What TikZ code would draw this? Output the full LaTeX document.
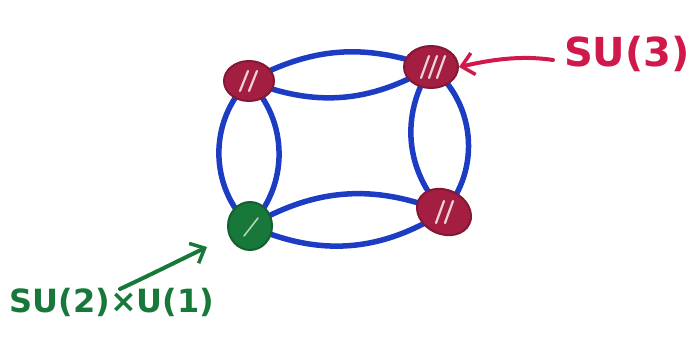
\documentclass[tikz,border=0pt]{standalone}
\usepackage{fontspec}
\setmainfont{DejaVu Sans}
\usetikzlibrary{shapes.geometric,arrows.meta,backgrounds}
\definecolor{inkblue}{HTML}{1D3CC4}
\definecolor{inkred}{HTML}{A41E42}
\definecolor{labelred}{HTML}{D0184A}
\definecolor{inkgreen}{HTML}{18783A}
\tikzset{
  su3/.style={ellipse, fill=inkred, draw=inkred!80!black, line width=2pt, inner sep=0pt},
  su2/.style={ellipse, fill=inkgreen, draw=inkgreen!80!black, line width=2pt, inner sep=0pt},
  link/.style={draw=inkblue, line width=5.5pt, line cap=round},
  hatch/.style={draw=white!80!inkred, line width=2.2pt, line cap=round},
  redarrow/.style={draw=labelred, line width=4pt, line cap=round, -{Straight Barb[length=12pt,width=22pt,line width=3.5pt]}},
  greenarrow/.style={draw=inkgreen, line width=4pt, line cap=round, -{Straight Barb[length=12pt,width=22pt,line width=3.5pt]}},
  lbl/.style={font=\bfseries, inner sep=0pt}
}
\begin{document}
\begin{tikzpicture}[x=1pt,y=-1pt]
\useasboundingbox (0,0) rectangle (700,340);
% vertices
\node[su3, minimum width=50pt, minimum height=40pt] (tl) at (249,81) {};
\node[su3, minimum width=54pt, minimum height=42pt] (tr) at (431,67) {};
\node[su3, minimum width=56pt, minimum height=44pt, rotate=-25] (br) at (444,212) {};
\node[su2, minimum width=44pt, minimum height=48pt] (bl) at (250,226) {};
% hatching
\draw[hatch] ([shift={(-9,10)}]tl.center) -- ++(8,-20);
\draw[hatch] ([shift={(0,10)}]tl.center) -- ++(8,-20);
\draw[hatch] ([shift={(-10,11)}]tr.center) -- ++(8,-22);
\draw[hatch] ([shift={(-2,11)}]tr.center) -- ++(8,-22);
\draw[hatch] ([shift={(6,11)}]tr.center) -- ++(8,-22);
\draw[hatch] ([shift={(-8,11)}]br.center) -- ++(8,-22);
\draw[hatch] ([shift={(1,11)}]br.center) -- ++(8,-22);
\draw[draw=white!70!inkgreen, line width=1.5pt, line cap=round] ([shift={(-6,10)}]bl.center) -- ++(14,-18);
% blue lenses
\begin{scope}[on background layer]
\draw[link] (tl.center) to[bend left=24] (tr.center);
\draw[link] (tl.center) to[bend right=26] (tr.center);
\draw[link] (tl.center) to[bend right=46] (bl.center);
\draw[link] (tl.center) to[bend left=44] (bl.center);
\draw[link] (tr.center) to[bend left=46] (br.center);
\draw[link] (tr.center) to[bend right=38] (br.center);
\draw[link] (bl.center) to[bend left=26] (br.center);
\draw[link] (bl.center) to[bend right=28] (br.center);
\end{scope}
% labels
\node[lbl, text=labelred, font=\bfseries\fontsize{40}{42}\selectfont] (l3) at (627,54) {SU(3)};
\node[lbl, text=inkgreen, font=\bfseries\fontsize{32}{34}\selectfont] (l2) at (112,302) {SU(2)×U(1)};
\coordinate (r0) at (553,60);
\coordinate (g0) at (120,289);
\coordinate (g1) at (207,247);
\draw[redarrow] (r0) .. controls (520,55) and (490,60) .. (tr.east);
\draw[greenarrow] (g0) .. controls (150,275) and (180,260) .. (g1);
\end{tikzpicture}
\end{document}
